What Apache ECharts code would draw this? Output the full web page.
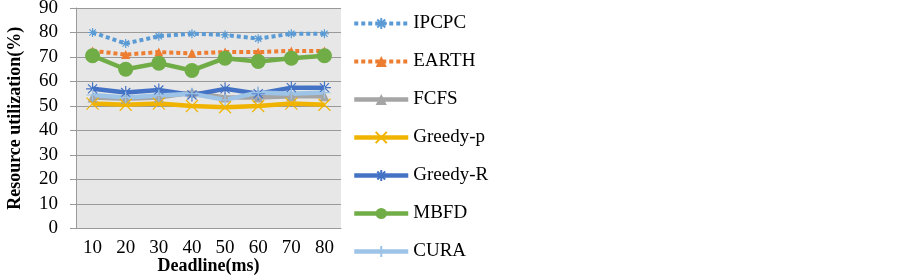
<!DOCTYPE html>
<html>
<head>
<meta charset="utf-8">
<script src="https://cdn.jsdelivr.net/npm/echarts@6/dist/echarts.min.js"></script>
<style>
html,body{margin:0;padding:0;background:#fff;}
#main{width:903px;height:276px;}
</style>
</head>
<body>
<div id="main"></div>
<script>
var deadlines = ['10','20','30','40','50','60','70','80'];
var ipcpc   = [80, 75.5, 78.5, 79.5, 79, 77.5, 79.5, 79.5];
var earth   = [72.5, 71, 72, 71.5, 72, 72, 72.5, 72.5];
var fcfs    = [53.5, 53, 53.5, 55.5, 53.5, 53.5, 54, 54];
var greedyP = [51, 50.5, 51, 50, 49.5, 50, 51, 50.5];
var greedyR = [57, 55.5, 56.5, 54.5, 57, 55, 57.5, 57.5];
var mbfd    = [70.5, 65, 67.5, 64.5, 69.5, 68.2, 69.5, 70.5];
var cura    = [54.5, 53.5, 54.3, 55, 52.5, 55.5, 55, 55.5];

var serif = 'Liberation Serif';
var starPath = 'path://M0,5L10,5M5,0L5,10M1.5,1.5L8.5,8.5M8.5,1.5L1.5,8.5';
var xPath = 'path://M0,0L10,10M10,0L0,10';
var plusPath = 'path://M5,0L5,10M0,5L10,5';

function mk(name, data, color, dash, width, symbol, size, stroke){
	var s = {
		name: name,
		type: 'line',
		data: data,
		symbol: symbol,
		symbolSize: size,
		showSymbol: true,
		lineStyle: {color: color, width: width, type: dash},
		itemStyle: {color: color, borderColor: color, borderWidth: stroke ? 1.2 : 0}
	};
	return s;
}

var myChart = echarts.init(document.getElementById('main'), null, {renderer: 'canvas'});
var option = {
	animation: false,
	textStyle: {fontFamily: serif},
	legend: {
		orient: 'vertical',
		left: 352,
		top: 14,
		padding: 0,
		itemWidth: 54,
		itemHeight: 14,
		itemGap: 19,
		lineStyle: {width: 'inherit'},
		textStyle: {fontFamily: serif, fontSize: 19, color: '#000'},
		data: ['IPCPC','EARTH','FCFS','Greedy-p','Greedy-R','MBFD','CURA']
	},
	grid: {left: 76, top: 8, width: 265, height: 220.5, show: true, backgroundColor: '#e7e7e7', borderWidth: 0, outerBoundsMode: 'none', containLabel: false},
	xAxis: {
		type: 'category',
		data: deadlines,
		boundaryGap: true,
		name: 'Deadline(ms)',
		nameLocation: 'middle',
		nameGap: 29,
		nameMoveOverlap: false,
		nameTextStyle: {fontFamily: serif, fontSize: 18, fontWeight: 'bold', color: '#000'},
		axisLine: {lineStyle: {color: '#9a9a9a', width: 1}},
		axisTick: {show: false},
		axisLabel: {fontFamily: serif, fontSize: 19, color: '#000', margin: 10}
	},
	yAxis: {
		type: 'value',
		min: 0,
		max: 90,
		interval: 10,
		name: 'Resource utilization(%)',
		nameLocation: 'middle',
		nameGap: 52,
		nameMoveOverlap: false,
		nameTextStyle: {fontFamily: serif, fontSize: 18, fontWeight: 'bold', color: '#000'},
		axisLine: {show: true, lineStyle: {color: '#9a9a9a', width: 1}},
		axisTick: {show: true, length: 6, lineStyle: {color: '#9a9a9a'}},
		splitLine: {lineStyle: {color: '#9a9a9a', width: 1}},
		axisLabel: {fontFamily: serif, fontSize: 19, color: '#000', margin: 18}
	},
	series: [
		mk('IPCPC', ipcpc, '#5b9bd5', [4, 3], 4, starPath, 9, true),
		mk('EARTH', earth, '#ed7d31', [4, 3], 4, 'triangle', 9, false),
		mk('FCFS', fcfs, '#a5a5a5', 'solid', 4.5, 'triangle', 10, false),
		mk('Greedy-p', greedyP, '#f0b400', 'solid', 4.5, xPath, 12, true),
		mk('Greedy-R', greedyR, '#4472c4', 'solid', 4.5, starPath, 13, true),
		mk('MBFD', mbfd, '#70ad47', 'solid', 4.5, 'circle', 15, false),
		mk('CURA', cura, '#9dc3e6', 'solid', 4.5, plusPath, 12, true)
	]
};
myChart.setOption(option);
</script>
</body>
</html>
